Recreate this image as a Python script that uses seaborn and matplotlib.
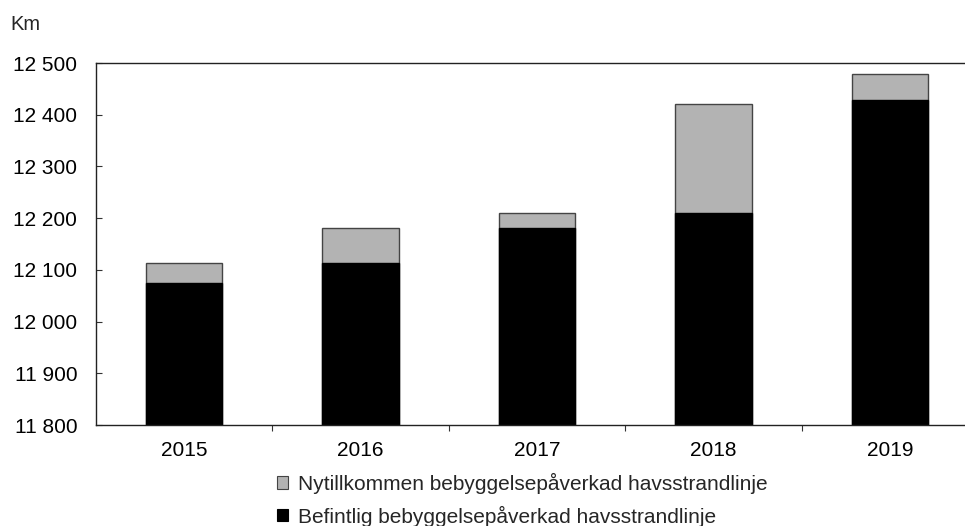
import numpy as np
import pandas as pd
from matplotlib import pyplot as plt
import matplotlib.patches as patches
from matplotlib.ticker import FixedLocator, FuncFormatter
import seaborn as sns

# Values (km)
years = ['2015', '2016', '2017', '2018', '2019']
befintlig = [12075, 12113, 12180, 12209, 12429]
nytillkommen = [38, 67, 29, 211, 49]

label_ny = 'Nytillkommen bebyggelsepåverkad havsstrandlinje'
label_bef = 'Befintlig bebyggelsepåverkad havsstrandlinje'

sns.set_theme(style='white')
plt.rcParams['font.family'] = ['Liberation Sans', 'DejaVu Sans']

df = pd.DataFrame({'Year': years, 'Befintlig': befintlig, 'Nytillkommen': nytillkommen})
df['Total'] = df['Befintlig'] + df['Nytillkommen']

fig = plt.figure(figsize=(9.65, 5.26), dpi=100)
ax = fig.add_axes([96 / 965, 101 / 526, 882 / 965, 362 / 526])

# Stacked bars: total in gray, existing part drawn on top in black
sns.barplot(data=df, x='Year', y='Total', color='#b3b3b3', edgecolor='#444444',
            linewidth=1.0, width=0.434, saturation=1, ax=ax)
sns.barplot(data=df, x='Year', y='Befintlig', color='black', edgecolor='black',
            linewidth=1.0, width=0.434, saturation=1, ax=ax)

ax.set_ylim(11800, 12500)
ax.set_xlim(-0.5, 4.5)
ax.set_yticks(np.arange(11800, 12501, 100))
ax.yaxis.set_major_formatter(FuncFormatter(lambda v, p: f'{int(v):,}'.replace(',', ' ')))
ax.set_xlabel('')
ax.set_ylabel('')

# year labels at bar centres without tick marks, tick marks between categories
ax.xaxis.set_minor_locator(FixedLocator([0.5, 1.5, 2.5, 3.5]))
ax.tick_params(axis='x', which='major', length=0, pad=11.5, labelsize=15, colors='black')
ax.tick_params(axis='x', which='minor', bottom=True, direction='out', length=4.5, width=0.8, color='#333333')
ax.tick_params(axis='y', which='major', left=True, direction='in', length=4.5, width=0.8,
               pad=13.5, labelsize=15, color='#333333', labelcolor='black')

for side in ['left', 'bottom', 'top']:
    ax.spines[side].set_visible(True)
    ax.spines[side].set_color('#222222')
    ax.spines[side].set_linewidth(1.0)
ax.spines['right'].set_visible(False)

fig.text(10 / 965, 1 - 24 / 526, 'Km', ha='left', va='center', fontsize=14.5)

handles = [
    patches.Patch(facecolor='#b3b3b3', edgecolor='#444444', linewidth=0.8, label=label_ny),
    patches.Patch(facecolor='black', edgecolor='black', linewidth=0.8, label=label_bef),
]
fig.legend(handles=handles, loc='upper left', bbox_to_anchor=(277 / 965, 1 - 473 / 526),
           frameon=False, fontsize=15, handlelength=0.55, handleheight=0.55,
           handletextpad=0.45, labelspacing=0.55, borderpad=0, borderaxespad=0)

fig.savefig('out.png', dpi=100)
